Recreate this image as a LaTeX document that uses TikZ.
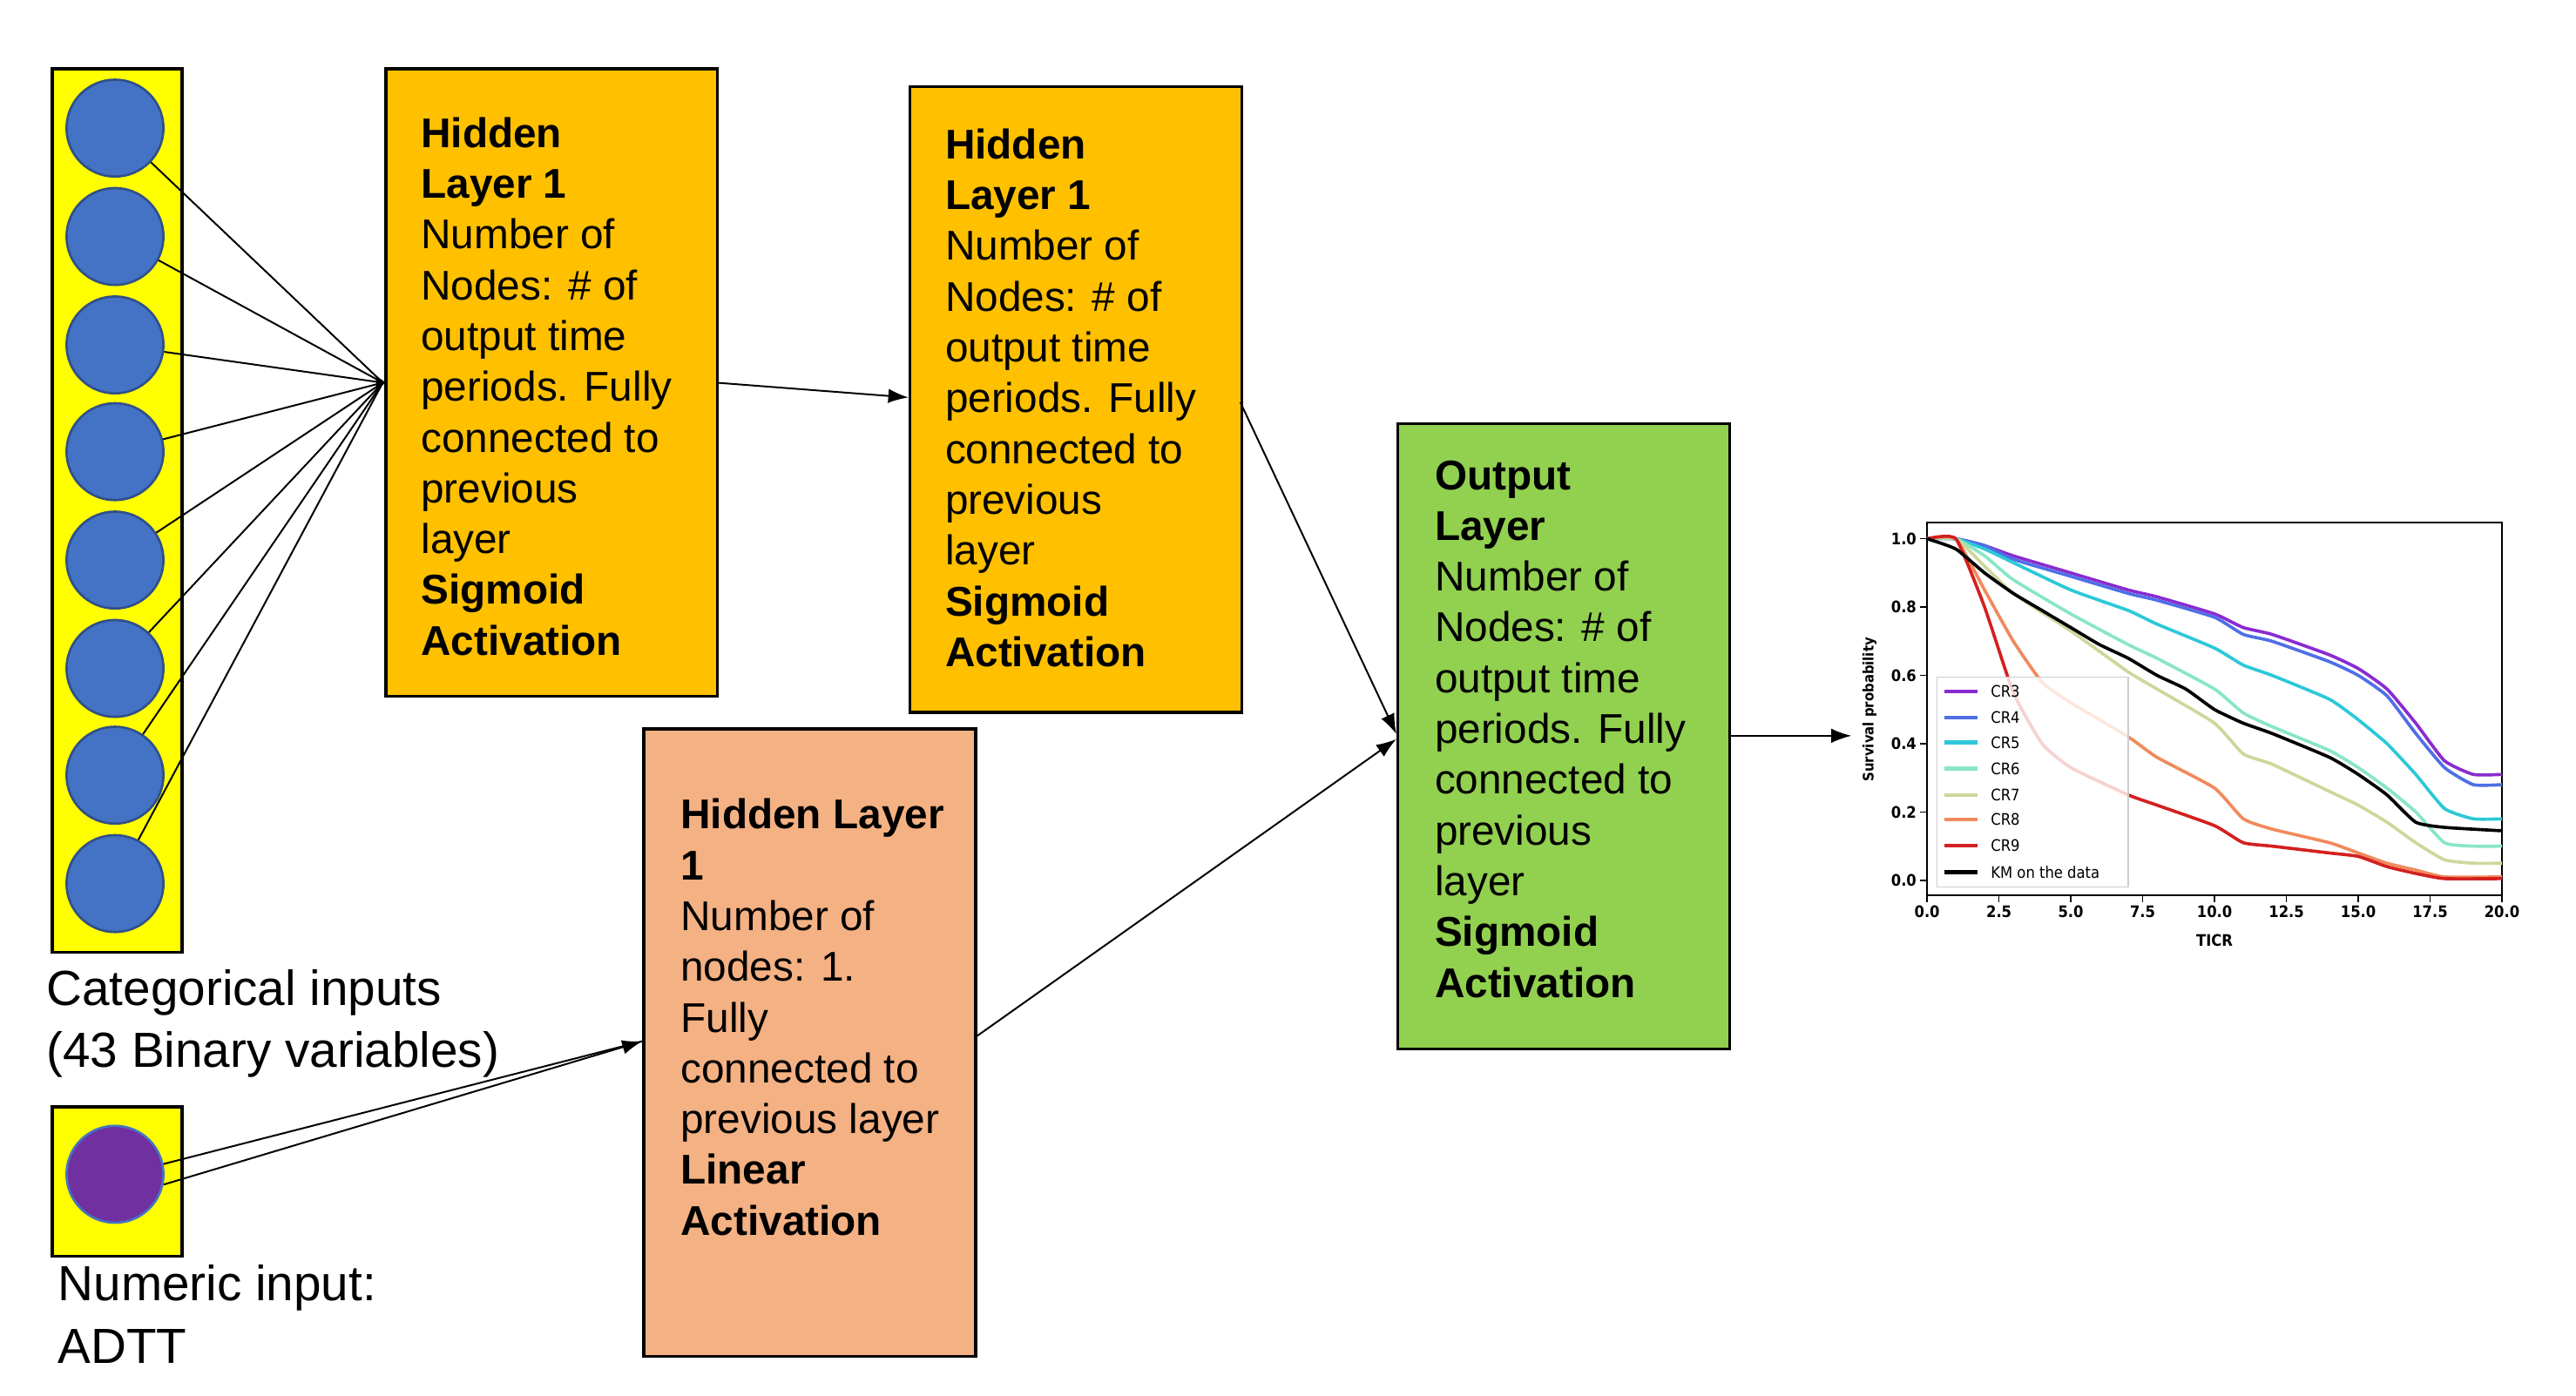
\documentclass[tikz,border=0pt]{standalone}
\usepackage{fontspec}
\setmainfont{Liberation Sans}
\newfontfamily\plotfont{DejaVu Sans Condensed}
\usetikzlibrary{arrows.meta}
\definecolor{cblue}{HTML}{4472C4}
\definecolor{cpurple}{HTML}{7030A0}
\definecolor{byellow}{HTML}{FFFF00}
\definecolor{borange}{HTML}{FFC000}
\definecolor{bsalmon}{HTML}{F4B183}
\definecolor{bgreen}{HTML}{92D050}
\definecolor{kthree}{HTML}{8A2BD0}
\definecolor{kfour}{HTML}{4F6FE6}
\definecolor{kfive}{HTML}{2CC8D8}
\definecolor{ksix}{HTML}{88E6C4}
\definecolor{kseven}{HTML}{CDD79C}
\definecolor{keight}{HTML}{F08A5C}
\definecolor{knine}{HTML}{D42020}
\begin{document}
\begin{tikzpicture}[x=0.02cm,y=-0.02cm,
  box/.style={draw=black,line width=1pt},
  neuron/.style={circle,draw=cblue!70!black,fill=cblue,line width=0.8pt,minimum size=1.18cm,inner sep=0},
  btxt/.style={anchor=north west,inner sep=0,align=left,font=\fontsize{14.4}{17.6}\selectfont},
  ltxt/.style={anchor=north west,inner sep=0,align=left,font=\fontsize{17.1}{21.6}\selectfont},
  conn/.style={line width=0.6pt},
  arr/.style={conn,-{Latex[length=7pt,width=5pt]}},
  curve/.style={line width=1.1pt,line join=round},
  tick/.style={font=\plotfont\bfseries\fontsize{5.5}{6}\selectfont,inner sep=1pt}]
\useasboundingbox (0,0) rectangle (1568,850);
% input column
\node[box,fill=byellow,minimum width=1.58cm,minimum height=10.76cm,inner sep=0,anchor=north west] (col) at (31,41) {};
\foreach \i/\y in {1/78,2/144,3/210,4/275,5/341,6/407,7/472,8/538}
  \node[neuron] (c\i) at (70,\y) {};
\node[box,fill=byellow,minimum width=1.58cm,minimum height=1.82cm,inner sep=0,anchor=north west] (ncol) at (31,673) {};
\node[neuron,fill=cpurple,draw=cblue] (p) at (70,715) {};
% boxes
\node[box,fill=borange,minimum width=4.04cm,minimum height=7.64cm,inner sep=0,anchor=north west] (h1) at (234,41) {};
\node[box,fill=borange,minimum width=4.04cm,minimum height=7.62cm,inner sep=0,anchor=north west] (h2) at (553,52) {};
\node[box,fill=bsalmon,minimum width=4.04cm,minimum height=7.64cm,inner sep=0,anchor=north west] (h3) at (391,443) {};
\node[box,fill=bgreen,minimum width=4.04cm,minimum height=7.62cm,inner sep=0,anchor=north west] (out) at (850,257) {};
\node[btxt] (t1) at (256,71) {\textbf{Hidden}\\\textbf{Layer 1}\\Number of\\Nodes: \# of\\output time\\periods. Fully\\connected to\\previous\\layer\\\textbf{Sigmoid}\\\textbf{Activation}};
\node[btxt] (t2) at (575,78) {\textbf{Hidden}\\\textbf{Layer 1}\\Number of\\Nodes: \# of\\output time\\periods. Fully\\connected to\\previous\\layer\\\textbf{Sigmoid}\\\textbf{Activation}};
\node[btxt] (t3) at (414,486) {\textbf{Hidden Layer}\\\textbf{1}\\Number of\\nodes: 1.\\Fully\\connected to\\previous layer\\\textbf{Linear}\\\textbf{Activation}};
\node[btxt] (t4) at (873,280) {\textbf{Output}\\\textbf{Layer}\\Number of\\Nodes: \# of\\output time\\periods. Fully\\connected to\\previous\\layer\\\textbf{Sigmoid}\\\textbf{Activation}};
\node[ltxt] (lc) at (28,590) {Categorical inputs\\(43 Binary variables)};
\node[ltxt] (ln) at (35,770) {Numeric input:\\ADTT};
% connectors
\coordinate (hin) at (233,233);
\foreach \i in {1,...,8} \draw[conn] (c\i) -- (hin);
\fill (hin) ++(-4,-4) -- ++(6,4) -- ++(-6,4) -- cycle;
\coordinate (h1o) at (436,233);
\coordinate (h2i) at (553,242);
\draw[arr] (h1o) -- (h2i);
\coordinate (h2o) at (755,245);
\coordinate (oi) at (850,447);
\draw[arr] (h2o) -- (oi);
\coordinate (h3o) at (593,632);
\coordinate (oi2) at (850,450);
\draw[arr] (h3o) -- (oi2);
\coordinate (h3i) at (391,634);
\draw[conn] (p.12) -- (h3i);
\draw[arr] (p.-12) -- (h3i);
\coordinate (oo) at (1052,448);
\coordinate (pin) at (1127,448);
\draw[arr] (oo) -- (pin);
% plot
\begin{scope}[shift={(1173,536)},x=0.35cm,y=4.16cm]
  \draw[line width=0.6pt] (0,-0.043) rectangle (20,1.048);
  \foreach \v in {0.0,0.2,0.4,0.6,0.8,1.0} {
    \draw[line width=0.5pt] (0,\v) -- (-0.25,\v);
    \node[tick,anchor=east] at (-0.25,\v) {\v};
  }
  \foreach \v in {0.0,2.5,5.0,7.5,10.0,12.5,15.0,17.5,20.0} {
    \draw[line width=0.5pt] (\v,-0.043) -- (\v,-0.065);
    \node[tick,anchor=north] at (\v,-0.065) {\v};
  }
  \node[tick,rotate=90,font=\plotfont\bfseries\fontsize{5}{6}\selectfont] at (-2,0.5) {Survival probability};
  \node[tick] at (10,-0.175) {TICR};
  \draw[curve,kthree] plot[smooth,tension=0.3] coordinates {(0,1)(1,1)(2,.98)(3,.95)(5,.9)(7,.85)(8,.83)(10,.78)(11,.74)(12,.72)(14,.66)(15,.62)(16,.56)(17,.46)(18,.35)(19,.31)(20,.31)};
  \draw[curve,kfour] plot[smooth,tension=0.3] coordinates {(0,1)(1,1)(2,.98)(3,.94)(5,.89)(7,.84)(8,.82)(10,.77)(11,.72)(12,.70)(14,.64)(15,.60)(16,.54)(17,.43)(18,.33)(19,.28)(20,.28)};
  \draw[curve,kfive] plot[smooth,tension=0.3] coordinates {(0,1)(1,1)(2,.97)(3,.93)(5,.85)(7,.79)(8,.75)(10,.68)(11,.63)(12,.60)(14,.53)(15,.47)(16,.40)(17,.31)(18,.21)(19,.18)(20,.18)};
  \draw[curve,ksix] plot[smooth,tension=0.3] coordinates {(0,1)(1,1)(2,.95)(3,.88)(5,.78)(7,.69)(8,.65)(10,.56)(11,.49)(12,.45)(14,.38)(15,.33)(16,.27)(17,.20)(18,.11)(19,.10)(20,.10)};
  \draw[curve,kseven] plot[smooth,tension=0.3] coordinates {(0,1)(1,1)(2,.92)(3,.84)(5,.73)(7,.61)(8,.56)(10,.46)(11,.37)(12,.34)(14,.26)(15,.22)(16,.17)(17,.11)(18,.06)(19,.05)(20,.05)};
  \draw[curve,keight] plot[smooth,tension=0.3] coordinates {(0,1)(1,1)(2,.85)(3,.70)(4,.58)(5,.52)(7,.42)(8,.36)(10,.27)(11,.18)(12,.15)(14,.11)(15,.08)(16,.05)(17,.03)(18,.01)(20,.01)};
  \draw[curve,knine] plot[smooth,tension=0.3] coordinates {(0,1)(1,1)(2,.8)(3,.55)(4,.40)(5,.33)(7,.25)(8,.22)(10,.16)(11,.11)(12,.10)(14,.08)(15,.07)(16,.04)(17,.02)(18,.005)(20,.005)};
  \draw[curve,black] plot[smooth,tension=0.3] coordinates {(0,1)(1,.97)(2,.90)(3,.84)(4,.79)(5,.74)(6,.69)(7,.65)(8,.60)(9,.56)(10,.50)(11,.46)(12,.43)(14,.36)(15,.31)(16,.25)(17,.17)(18,.155)(20,.145)};
  % legend
  \draw[black!20,fill=white,fill opacity=0.8] (0.35,-0.02) rectangle (7.0,0.595);
  \foreach \n/\c/\yy in {CR3/kthree/0.553,CR4/kfour/0.476,CR5/kfive/0.404,CR6/ksix/0.327,CR7/kseven/0.250,CR8/keight/0.178,CR9/knine/0.101}{
    \draw[\c,line width=1.3pt] (0.6,\yy) -- (1.75,\yy);
    \node[tick,anchor=west,font=\plotfont\fontsize{5.5}{6}\selectfont] at (2.1,\yy) {\n};
  }
  \draw[black,line width=1.3pt] (0.6,0.024) -- (1.75,0.024);
  \node[tick,anchor=west,font=\plotfont\fontsize{5.5}{6}\selectfont] at (2.1,0.024) {KM on the data};
\end{scope}
\end{tikzpicture}
\end{document}
